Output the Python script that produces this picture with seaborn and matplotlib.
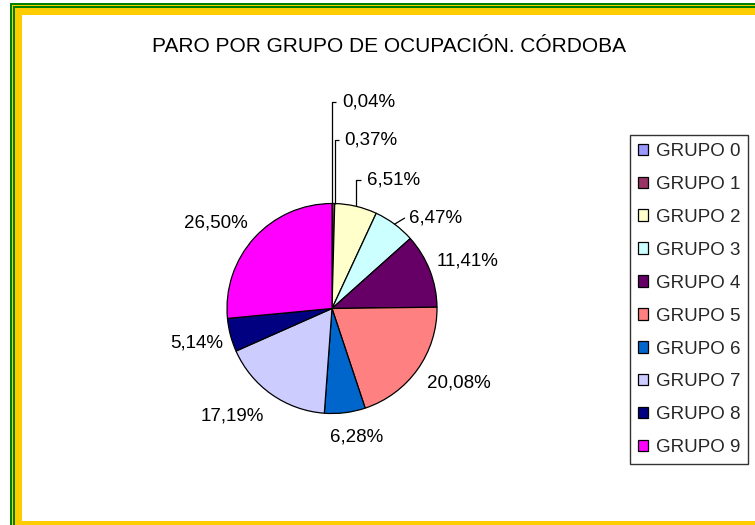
import numpy as np
import matplotlib
matplotlib.use("Agg")
import matplotlib.pyplot as plt
from matplotlib.patches import Rectangle
import seaborn as sns

# data
groups = ["GRUPO 0", "GRUPO 1", "GRUPO 2", "GRUPO 3", "GRUPO 4",
          "GRUPO 5", "GRUPO 6", "GRUPO 7", "GRUPO 8", "GRUPO 9"]
percent = [0.04, 0.37, 6.51, 6.47, 11.41, 20.08, 6.28, 17.19, 5.14, 26.50]
colors = ["#9999FF", "#993366", "#FFFFCC", "#CCFFFF", "#660066",
          "#FF8080", "#0066CC", "#CCCCFF", "#000080", "#FF00FF"]
title = "PARO POR GRUPO DE OCUPACIÓN. CÓRDOBA"

# label placement relative to slice edge (pixels, y up) and leader style
label_offsets = [(10, 102), (10, 64), (11, 26), (14, 6), (38, 9),
                 (41, -14), (12, -24), (-39, -22), (-34, -8), (-38, 15)]
leaders = ["elbow", "elbow", "elbow", "straight", None,
           None, None, None, None, None]

sns.set_theme(style="white")
plt.rcParams["font.family"] = ["Liberation Sans", "DejaVu Sans"]

W, H = 755, 525
fig = plt.figure(figsize=(W / 100, H / 100), dpi=100)
fig.patch.set_facecolor("white")

# axes covering the whole figure, 1 data unit = pie radius = 105 px
R = 105.0
cx, cy = 332.0, 308.5
ax = fig.add_axes([0, 0, 1, 1])


def frame(x0, y0, x1, y1, color):
    # rectangle given in pixels from the top-left corner
    ax.add_patch(Rectangle((x0 / W, 1 - y1 / H), (x1 - x0) / W, (y1 - y0) / H,
                           transform=fig.transFigure, facecolor=color,
                           edgecolor="none", zorder=0, clip_on=False))


# double green / yellow border
frame(10, 3, W, H, "#008000")
frame(12, 5, W, H, "#FFCC00")
frame(13, 6, W, H, "#008000")
frame(15, 8, W, H, "#FFCC00")
frame(22, 15, W, 521, "white")

wedges, _ = ax.pie(percent, colors=colors, startangle=90, counterclock=False,
                   radius=1, center=(0, 0),
                   wedgeprops=dict(edgecolor="black", linewidth=0.9))
for w in wedges:
    w.set_zorder(2)

# pie() resets the limits, so set them afterwards
ax.set_xlim(-cx / R, (W - cx) / R)
ax.set_ylim(-(H - cy) / R, cy / R)
ax.set_aspect("equal")
ax.axis("off")

px = 1 / R
for w, val, (dx, dy), lead in zip(wedges, percent, label_offsets, leaders):
    ang = (w.theta1 + w.theta2) / 2 if val >= 1 else w.theta1
    ex, ey = np.cos(np.radians(ang)), np.sin(np.radians(ang))
    tx, ty = ex + dx * px, ey + dy * px
    txt = f"{val:.2f}".replace(".", ",") + "%"
    if lead is None:
        ax.text(tx, ty, txt, ha="center", va="center", fontsize=13.5, color="black")
    else:
        ax.text(tx, ty, txt, ha="left", va="center", fontsize=13.5, color="black")
        if lead == "elbow":
            ax.plot([ex, ex, tx - 6 * px], [ey, ty, ty], color="black", lw=0.9,
                    zorder=3, solid_capstyle="butt")
        else:
            ax.plot([ex, tx - 4 * px], [ey, ty], color="black", lw=0.9, zorder=3)

fig.text(388.5 / W, 1 - 52 / H, title, ha="center", va="baseline",
         fontsize=15, color="black")

leg = ax.legend(wedges, groups, loc="upper left",
                bbox_to_anchor=(630 / W, 1 - 135 / H), bbox_transform=fig.transFigure,
                borderaxespad=0, fontsize=13.5, frameon=True, fancybox=False,
                edgecolor="black", handlelength=0.55, handleheight=0.55,
                handletextpad=0.4, labelspacing=0.85, borderpad=0.42)
leg.get_frame().set_linewidth(1.0)
leg.set_zorder(5)

fig.savefig("out.png", dpi=100, facecolor="white")
